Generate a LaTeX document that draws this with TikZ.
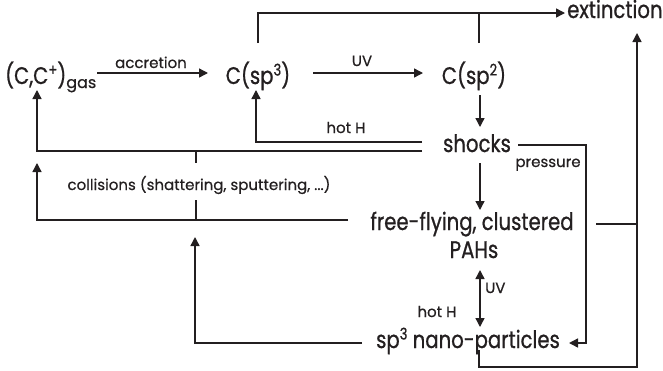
\documentclass[tikz,border=0pt]{standalone}
\usepackage{fontspec}
\setmainfont{Poppins}[FakeBold=0.6]
\newfontfamily\namefont{Poppins}[FakeStretch=0.82,FakeBold=0.8]
\usetikzlibrary{arrows.meta,calc}
\definecolor{ink}{HTML}{231F20}
% raised and lowered indices for the species names
\newcommand\hiidx[1]{\raisebox{8.5pt}{\fontsize{16}{16}\selectfont #1}}
\newcommand\loidx[1]{\raisebox{-4pt}{\rmfamily\fontsize{16}{16}\selectfont #1}}
\begin{document}
\begin{tikzpicture}[x=1pt,y=-1pt,
  big/.style={font=\namefont\fontsize{24}{26}\selectfont, text=ink, inner sep=0pt},
  small/.style={font=\fontsize{15}{17}\selectfont, text=ink, inner sep=0pt},
  ln/.style={draw=ink, line width=1.4pt},
  arr/.style={ln, -{Triangle[length=9pt,width=9pt]}},
  dbl/.style={ln, {Triangle[length=9pt,width=9pt]}-{Triangle[length=9pt,width=9pt]}},
]
\useasboundingbox (0,0) rectangle (663,370);

% species and processes
\node[big, anchor=base west] (gas) at (5,84) {(C,C\hiidx{+})\loidx{gas}};
\node[big, anchor=base] (sp3) at (258,84) {C(sp\hiidx{3})};
\node[big, anchor=base] (sp2) at (474,84) {C(sp\hiidx{2})};
\node[big, anchor=base west] (ext) at (567,18) {extinction};
\node[big, anchor=base] (shocks) at (477,152) {shocks};
\node[big, anchor=base] (ffc) at (472,230) {free-flying, clustered};
\node[big, anchor=base] (pahs) at (474,258) {PAHs};
\node[big, anchor=base] (nano) at (468,348) {sp\hiidx{3} nano-particles};

% edge labels
\node[small, anchor=base] (lacc) at (151,68) {accretion};
\node[small, anchor=base] (luv) at (362,66) {UV};
\node[small, anchor=base] (lhot) at (346,133) {hot H};
\node[small, anchor=base] (lpress) at (548,167) {pressure};
\node[small, anchor=base] (coll) at (199,190) {collisions (shattering, sputtering, ...)};
\node[small, anchor=base west] (luvb) at (485,293) {UV};
\node[small, anchor=base] (lhotb) at (437,317) {hot H};

% top row
\draw[arr] ($(gas.base west)+(92,-11)$) -- ($(sp3.base)+(-50,-11)$);
\draw[arr] ($(sp3.base)+(55,-11)$) -- ($(sp2.base)+(-51,-11)$);
\draw[arr] ($(sp3.base)+(0,-41)$) |- ($(ext.base west)+(-2,-5)$);
\draw[ln] ($(sp2.base)+(5,-41)$) -- ($(sp2.base)+(5,-71)$);

% down the middle
\draw[arr] ($(sp2.base)+(6,11)$) -- ($(shocks.base)+(3,-25)$);
\draw[arr] ($(shocks.base)+(3,11)$) -- ($(ffc.base)+(8,-20)$);
\draw[dbl] ($(pahs.base)+(6,12)$) -- ($(nano.base)+(12,-21)$);

% returns to the left
\draw[arr] ($(shocks.base)+(-55,-10)$) -| ($(sp3.base)+(-2,6)$);
\draw[arr] ($(shocks.base)+(-55,-1)$) -| ($(gas.base west)+(32,6)$);
\draw[arr] ($(ffc.base)+(-124,-10)$) -| ($(gas.base west)+(32,79)$);
\draw[ln] ($(coll.base)+(-3,-39)$) -- ++(0,12);
\draw[ln] ($(coll.base)+(-3,10)$) -- ++(0,19);
\draw[arr] ($(nano.base)+(-106,-5)$) -| ($(coll.base)+(-4,47)$);

% pressure and extinction on the right
\draw[arr] ($(shocks.base)+(41,-7)$) -- ++(68,0) |- ($(nano.base)+(101,-5)$);
\draw[ln] ($(ffc.base)+(124,-6)$) -- ++(41,0);
\draw[arr] ($(nano.base)+(11,2)$) -- ++(0,17) -| ($(ext.base west)+(70,15)$);
\end{tikzpicture}
\end{document}
